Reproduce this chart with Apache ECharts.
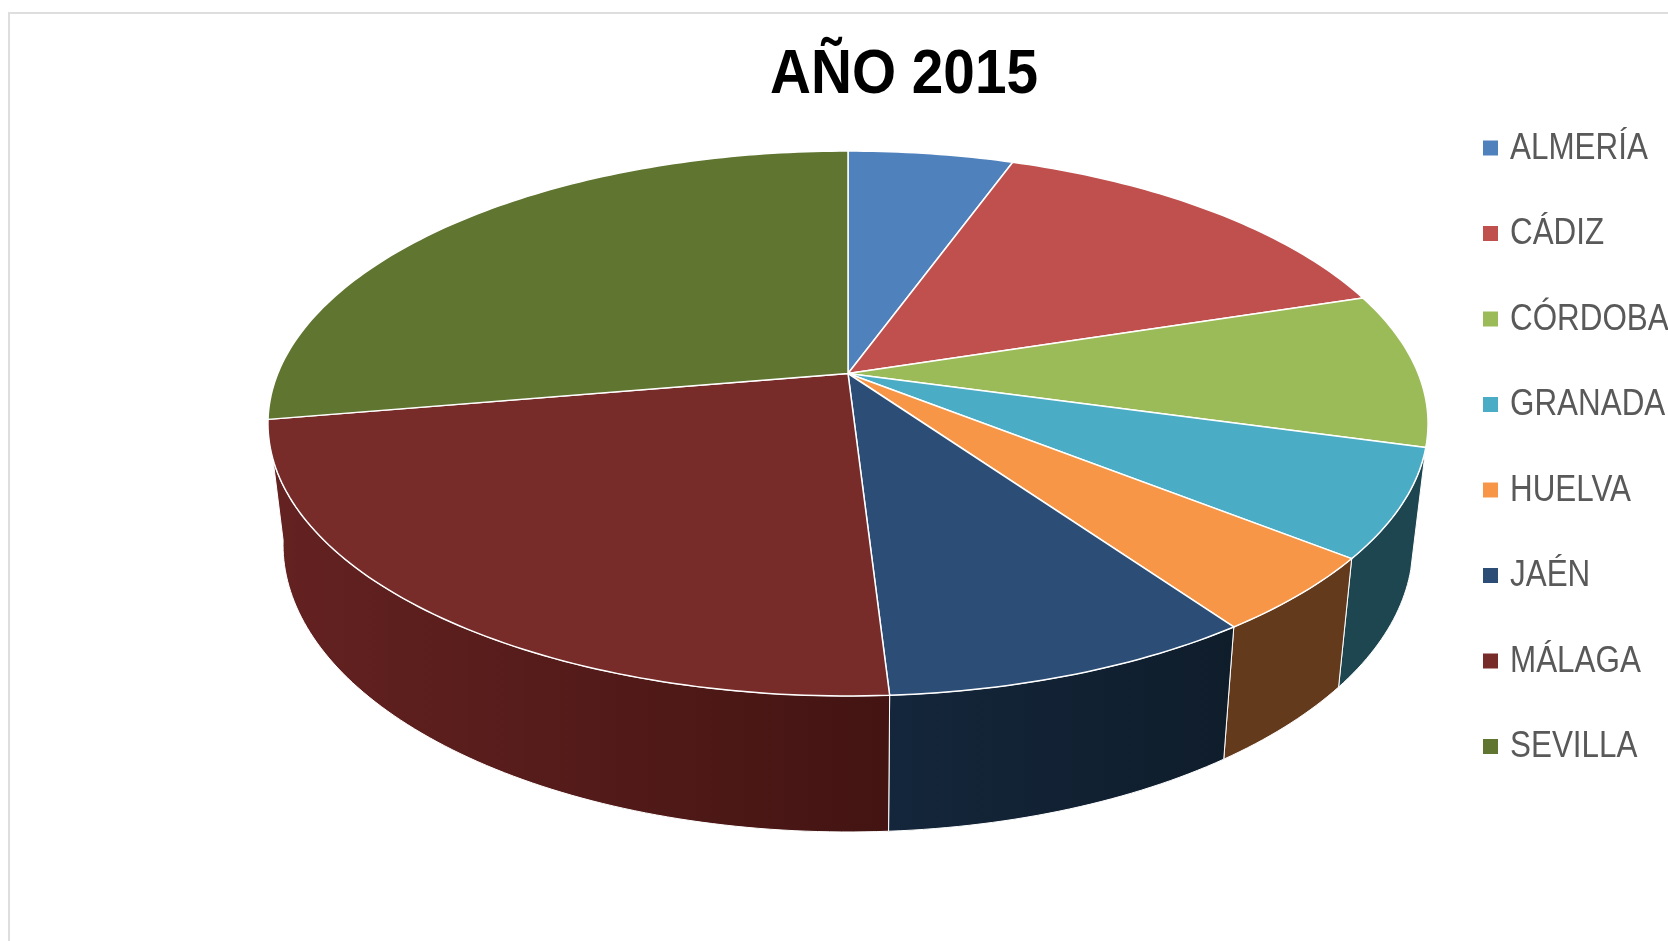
<!DOCTYPE html>
<html>
<head>
<meta charset="utf-8">
<style>html,body{margin:0;padding:0;background:#fff}#c{width:1668px;height:941px}</style>
<script src="https://cdn.jsdelivr.net/npm/echarts@6/dist/echarts.min.js"></script>
</head>
<body>
<div id="c"></div>
<script>
const titleText = 'AÑO 2015';
const categories = ['ALMERÍA','CÁDIZ','CÓRDOBA','GRANADA','HUELVA','JAÉN','MÁLAGA','SEVILLA'];
const values = [5.5,14.6,9.2,6.4,4.55,8.8,23.25,27.7];
const topColors = ['#4f81bd','#c0504d','#9bbb59','#4bacc6','#f79646','#2c4d75','#772c2a','#5f7530'];
const sideStart = ['#2f4d71','#73302e','#5d7035','#1e4650','#643a1c','#14263b','#642221','#394619'];
const sideEnd   = ['#2f4d71','#73302e','#5d7035','#1e4650','#643a1c','#0f1d2b','#431412','#394619'];

// Perspective disc geometry (pixels)
const cx = 848, cy = 373.5, A = 570.2, B = 263.3, P = 0.1835;
const sideX = 0.974, sideY = 1.055, rimY = 696, lowRimY = 832;
const total = values.reduce((a, b) => a + b, 0);

function topPoint(deg) {
  const t = deg * Math.PI / 180;
  const u = Math.sin(t), v = -Math.cos(t);
  const d = 1 - P * v;
  return [cx + A * u / d, cy + B * v / d];
}
function lowPoint(deg) {
  const p = topPoint(deg);
  return [cx + sideX * (p[0] - cx), lowRimY + sideY * (p[1] - rimY)];
}
function arc(fn, a, b) {
  const n = Math.max(2, Math.ceil(Math.abs(b - a)));
  const pts = [];
  for (let i = 0; i <= n; i++) pts.push(fn(a + (b - a) * i / n));
  return pts;
}
function renderSlice(params, api) {
  const idx = params.seriesIndex;
  let before = 0;
  for (let i = 0; i < idx; i++) before += values[i];
  const a = before / total * 360;
  const b = a + api.value(0) / total * 360;
  const mid = (a + b) / 2 * Math.PI / 180;
  const children = [];
  if (Math.cos(mid) < 0) {
    const side = arc(topPoint, a, b).concat(arc(lowPoint, b, a));
    children.push({
      type: 'polygon', z2: 1,
      shape: { points: side },
      style: {
        fill: new echarts.graphic.LinearGradient(0, 0, 1, 0, [
          { offset: 0, color: sideStart[idx] }, { offset: 1, color: sideEnd[idx] }
        ]),
        stroke: '#fff', lineWidth: 1, lineJoin: 'round'
      }
    });
  }
  const top = [[cx, cy]].concat(arc(topPoint, a, b));
  children.push({
    type: 'polygon', z2: 2,
    shape: { points: top },
    style: { fill: api.visual('color'), stroke: '#fff', lineWidth: 1.5, lineJoin: 'round' }
  });
  return { type: 'group', children };
}

const narrow = 0.872;
const legendTop = 148, legendStep = 85.5;
const legendLabels = categories.map((name, i) => ({
  type: 'text', silent: true, x: 1510, y: legendTop + 1 + i * legendStep, scaleX: narrow,
  style: {
    text: name, fill: '#595959', textAlign: 'left', textVerticalAlign: 'middle',
    font: '36px "Liberation Sans"'
  }
}));

const chart = echarts.init(document.getElementById('c'), null, { renderer: 'canvas' });
chart.setOption({
  animation: false,
  backgroundColor: '#fff',
  legend: {
    orient: 'vertical', left: 1478, top: legendTop - 12.5, icon: 'rect',
    itemWidth: 15, itemHeight: 15, itemGap: legendStep - 15,
    data: categories, formatter: () => '', selectedMode: false,
    textStyle: { fontSize: 1, lineHeight: 1 }
  },
  graphic: [{
    type: 'rect', silent: true, z: -1,
    shape: { x: 9, y: 13, width: 1700, height: 1000 },
    style: { fill: '#fff', stroke: '#dedede', lineWidth: 2 }
  }, {
    type: 'text', silent: true, x: 904, y: 75.5, scaleX: 0.9,
    style: {
      text: titleText, fill: '#000', textAlign: 'center', textVerticalAlign: 'middle',
      font: 'bold 63px "Liberation Sans"'
    }
  }].concat(legendLabels),
  series: categories.map((name, i) => ({
    type: 'custom', name, coordinateSystem: 'none', silent: true,
    itemStyle: { color: topColors[i] },
    data: [[values[i]]],
    renderItem: renderSlice
  }))
});
</script>
</body>
</html>
